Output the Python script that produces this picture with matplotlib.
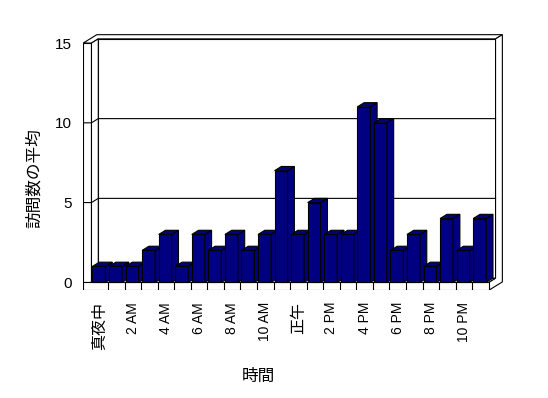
import matplotlib
matplotlib.use('Agg')
import matplotlib.pyplot as plt
from matplotlib.patches import Polygon

plt.rcParams['font.family'] = ['Liberation Sans', 'Noto Sans CJK JP']

# data
hours = list(range(24))
visits = [1, 1, 1, 2, 3, 1, 3, 2, 3, 2, 3, 7, 3, 5, 3, 3, 11, 10, 2, 3, 1, 4, 2, 4]
tick_labels = ['真夜中', '2 AM', '4 AM', '6 AM', '8 AM', '10 AM',
               '正午', '2 PM', '4 PM', '6 PM', '8 PM', '10 PM']
yticks = [0, 5, 10, 15]
ymax = 15

# oblique projection: one depth unit in data units
DX = 0.411
DY = 0.263
navy = '#000080'
lw = 0.8


def P(x, y, z):
    return (x + DX * z, y + DY * z)


def face(ax, pts, fc, zo):
    ax.add_patch(Polygon([P(*p) for p in pts], closed=True, facecolor=fc,
                         edgecolor='black', linewidth=lw, zorder=zo))


W, H = 548, 398
fig = plt.figure(figsize=(W / 100, H / 100), dpi=100)
# pixel box of the axes
left, right, top, bottom = 83.2, 505.3, 33.5, 290.3
ax = fig.add_axes([left / W, 1 - bottom / H, (right - left) / W, (bottom - top) / H])
n = len(hours)
ax.set_xlim(-0.5, 25.0)
ax.set_ylim(-0.5, 15.6)
for s in ax.spines.values():
    s.set_visible(False)

# walls and floor
face(ax, [(0, 0, 1), (n, 0, 1), (n, ymax, 1), (0, ymax, 1)], 'white', 1)
face(ax, [(-0.5, ymax, 0), (0, ymax, 0), (0, ymax, 1), (n, ymax, 1),
          (n, ymax, 2), (-0.5, ymax, 2)], 'white', 1)
face(ax, [(n, -0.5, 0), (n, -0.5, 2), (n, ymax, 2), (n, ymax, 1),
          (n, 0, 1), (n, 0, 0)], 'white', 1)
face(ax, [(-0.5, 0, 0), (0, 0, 0), (0, ymax, 0), (-0.5, ymax, 0)], 'white', 1)
face(ax, [(0, 0, 0), (0, ymax, 0), (0, ymax, 1), (0, 0, 1)], 'white', 1)
face(ax, [(0, 0, 0), (n, 0, 0), (n, 0, 1), (0, 0, 1)], 'white', 1)
face(ax, [(-0.5, -0.5, 0), (n, -0.5, 0), (n, 0, 0), (-0.5, 0, 0)], 'white', 1)

# gridlines on the walls
for v in yticks[1:-1]:
    xs, ys = zip(P(-0.5, v, 0), P(0, v, 0), P(0, v, 1), P(n, v, 1))
    ax.plot(xs, ys, color='black', linewidth=lw, zorder=2)
# category separators on the floor front
for k in range(1, n):
    ax.plot([k, k], [-0.5, 0], color='black', linewidth=lw, zorder=2)

# bars
bw = 0.785
off = 0.06
for k, v in zip(hours, visits):
    zo = 10 + k * 0.01
    ax.bar(k + off, v, width=bw, align='edge', color=navy,
           edgecolor='black', linewidth=lw, zorder=zo)
    x0, x1 = k + off, k + off + bw
    face(ax, [(x1, 0, 0), (x1, v, 0), (x1, v, 1), (x1, 0, 1)], navy, zo)
    face(ax, [(x0, v, 0), (x1, v, 0), (x1, v, 1), (x0, v, 1)], navy, zo)

# ticks
ax.set_yticks(yticks)
ax.set_yticklabels([str(t) for t in yticks], fontsize=11)
ax.tick_params(axis='y', length=0, pad=8)
ax.set_xticks([h + 0.5 for h in hours[::2]])
ax.set_xticklabels(tick_labels, rotation=90, rotation_mode='anchor',
                   ha='right', va='center')
for lab in ax.get_xticklabels():
    lab.set_fontsize(11.5 if lab.get_text() in ('真夜中', '正午') else 10)
ax.tick_params(axis='x', length=0, pad=8.4)

ax.set_xlabel('時間', fontsize=12)
ax.xaxis.set_label_coords(258 / W, 1 - 369 / H, transform=fig.transFigure)
ax.set_ylabel('訪問数の平均', fontsize=12)
ax.yaxis.set_label_coords(42 / W, 1 - 178 / H, transform=fig.transFigure)

fig.savefig('out.png', dpi=100)
